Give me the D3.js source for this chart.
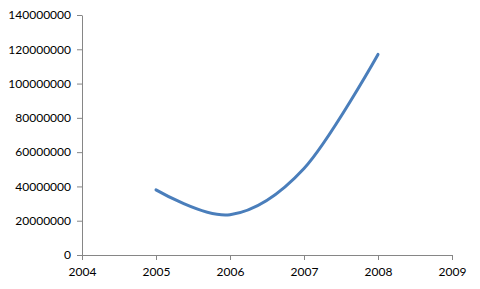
<!DOCTYPE html>
<html>
<head>
<meta charset="utf-8">
<script src="https://cdn.jsdelivr.net/npm/d3@7"></script>
<style>
  body { margin: 0; background: #fff; }
  .axis text { font-family: Lato, "Open Sans", sans-serif; font-size: 12px; fill: #000; }
  .axis path, .axis line { stroke: #868686; }
</style>
</head>
<body>
<div id="chart"></div>
<script>
// data
const years = [2005, 2006, 2007, 2008];
const values = [38000000, 23500000, 50500000, 117000000];
const xTicks = [2004, 2005, 2006, 2007, 2008, 2009];
const yTicks = [0, 20000000, 40000000, 60000000, 80000000, 100000000, 120000000, 140000000];

const width = 480;
const height = 289;
const margin = { top: 15, right: 28, bottom: 34, left: 82 };

const svg = d3.select('#chart')
    .append('svg')
    .attr('width', width)
    .attr('height', height);

const chart = svg.append('g')
    .attr('transform', `translate(${margin.left},${margin.top})`);

const chartWidth = width - margin.left - margin.right;
const chartHeight = height - margin.top - margin.bottom;

const xScale = d3.scaleLinear()
    .domain([2004, 2009])
    .range([0, chartWidth]);
const yScale = d3.scaleLinear()
    .domain([0, 140000000])
    .range([chartHeight, 0]);

const xAxis = d3.axisBottom(xScale)
    .tickValues(xTicks)
    .tickSize(5)
    .tickSizeOuter(5)
    .tickFormat(d3.format('d'));

chart.append('g')
    .classed('x axis', true)
    .attr('transform', `translate(0,${chartHeight})`)
    .call(xAxis)
    .call(g => g.selectAll('text').attr('dy', '0.71em').attr('y', 12));

const yAxis = d3.axisLeft(yScale)
    .tickValues(yTicks)
    .tickSize(5)
    .tickSizeOuter(0)
    .tickFormat(d3.format('d'));

chart.append('g')
    .classed('y axis', true)
    .call(yAxis)
    .call(g => g.selectAll('text').attr('x', -11));

const line = d3.line()
    .x((d, i) => xScale(years[i]))
    .y(d => yScale(d))
    .curve(d3.curveCardinal.tension(0));

chart.append('path')
    .datum(values)
    .attr('fill', 'none')
    .attr('stroke', '#4a7ebb')
    .attr('stroke-width', 3)
    .attr('stroke-linecap', 'round')
    .attr('d', line);
</script>
</body>
</html>
